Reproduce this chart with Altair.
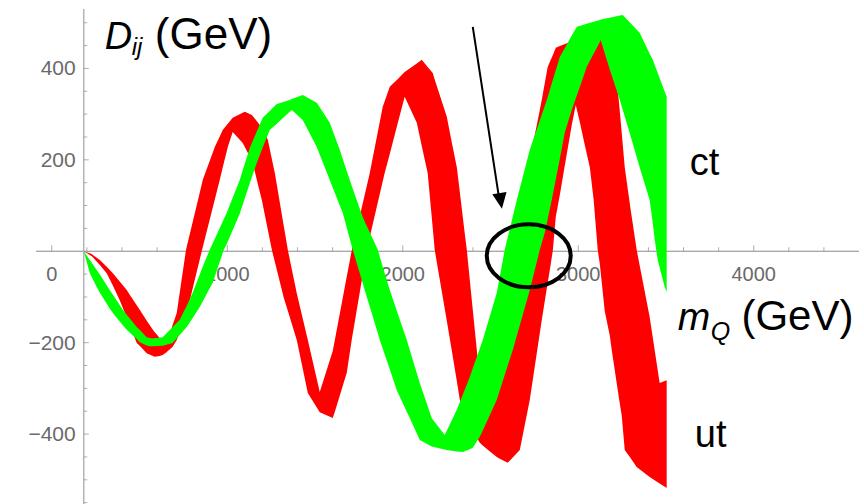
import altair as alt
import pandas as pd

# ---- red band (ut): m_Q (GeV), upper edge, lower edge (GeV) ----
ut_m = [182, 228, 234, 274, 313, 348, 387, 427, 444, 484, 501, 541, 576, 587, 615, 632, 650, 678, 689, 712,
        764, 769, 855, 860, 929, 957, 974, 1003, 1031, 1088, 1100, 1140, 1145, 1185, 1197, 1231, 1254, 1271,
        1322, 1345, 1396, 1402, 1459, 1527, 1601, 1613, 1681, 1709, 1795, 1812, 1886, 1897, 1926, 1972, 2011,
        2080, 2108, 2142, 2171, 2182, 2251, 2279, 2308, 2325, 2353, 2365, 2382, 2422, 2439, 2456, 2490, 2536,
        2553, 2598, 2627, 2667, 2707, 2724, 2781, 2792, 2826, 2838, 2855, 2872, 2895, 2929, 2952, 2963, 2986,
        3009, 3037, 3066, 3088, 3111, 3123, 3151, 3180, 3191, 3208, 3231, 3248, 3265, 3299, 3333, 3407, 3464, 3504]
ut_hi = [0, -6, -8, -19, -34, -48, -66, -85, -95, -118, -128, -152, -172, -177, -190, -195, -201, -174, -161, -135,
         1, 10, 147, 156, 228, 251, 265, 279, 292, 303, 305, 298, 296, 276, 268, 244, 202, 171,
         55, 3, -92, -102, -194, -308, -218, -194, -55, 1, 143, 171, 316, 328, 360, 377, 392,
         411, 419, 403, 390, 376, 294, 239, 184, 130, 40, 3, -63, -216, -282, -347, -282, -186,
         -151, -56, 1, 85, 167, 200, 309, 331, 403, 414, 429, 445, 449, 454, 458, 459, 462,
         464, 467, 467, 468, 469, 469, 460, 451, 435, 408, 331, 258, 184, 90, 3, -144, -288, -282]
ut_lo = [0, -11, -13, -30, -48, -75, -107, -145, -161, -201, -207, -223, -229, -231, -229, -227, -222, -213, -209, -194,
         -141, -135, 1, 9, 113, 156, 183, 228, 261, 237, 228, 198, 193, 130, 112, 47, 3, -23,
         -102, -130, -194, -205, -310, -352, -365, -351, -266, -194, 1, 31, 153, 171, 213, 281, 338,
         281, 231, 171, 51, 3, -152, -216, -284, -325, -353, -364, -380, -408, -419, -425, -436, -450,
         -454, -463, -451, -435, -358, -325, -179, -151, -69, -41, 1, 75, 123, 200, 251, 276, 320,
         283, 233, 184, 112, 3, -28, -131, -185, -216, -260, -319, -360, -435, -453, -472, -494, -508, -518]

# ---- green band (ct) ----
ct_m = [182, 217, 256, 274, 330, 348, 405, 427, 484, 501, 541, 558, 570, 632, 689, 729, 769, 803, 843, 860,
        900, 917, 980, 997, 1071, 1128, 1168, 1202, 1242, 1282, 1356, 1368, 1430, 1510, 1584, 1641, 1658, 1698,
        1715, 1772, 1783, 1858, 1869, 1926, 1966, 2023, 2040, 2097, 2165, 2171, 2239, 2251, 2308, 2342, 2382,
        2399, 2439, 2456, 2536, 2581, 2627, 2650, 2724, 2781, 2809, 2821, 2849, 2895, 2923, 2963, 2992, 3026,
        3048, 3123, 3128, 3180, 3237, 3254, 3293, 3350, 3407, 3425, 3436, 3453, 3493, 3504]
ct_hi = [0, -19, -41, -51, -85, -95, -128, -139, -166, -172, -188, -190, -191, -188, -166, -150, -119, -91, -51, -34,
         3, 17, 70, 84, 156, 226, 262, 292, 307, 322, 331, 333, 342, 325, 281, 222, 202, 156,
         137, 75, 65, 3, -12, -85, -130, -194, -216, -288, -365, -368, -402, -393, -347, -314, -275,
         -256, -213, -194, -91, 3, 76, 112, 222, 286, 318, 331, 367, 425, 444, 472, 491, 495,
         498, 506, 507, 511, 516, 517, 501, 478, 432, 419, 407, 390, 349, 338]
ct_lo = [0, -48, -78, -91, -125, -135, -162, -172, -192, -199, -206, -208, -208, -207, -201, -183, -166, -146, -122, -110,
         -81, -69, 3, 16, 82, 149, 193, 227, 265, 279, 305, 309, 287, 228, 156, 100, 84, 27,
         3, -70, -85, -179, -194, -258, -304, -351, -365, -413, -427, -428, -434, -435, -438, -439, -433,
         -430, -406, -392, -325, -271, -216, -185, -85, 3, 40, 61, 112, 202, 259, 309, 341, 378,
         403, 458, 462, 397, 331, 309, 259, 184, 112, 60, 25, -19, -78, -89]

# ---- axes ----
x_range = [-90, 4600]
y_range = [-553, 530]
x_labels = [0, 1000, 2000, 3000, 4000]
x_minor = [200, 400, 600, 800, 1200, 1400, 1600, 1800, 2200, 2400, 2600, 2800,
           3200, 3400, 3600, 3800, 4200, 4400]
y_labels = [-400, -200, 200, 400]
y_minor = [-550, -500, -450, -350, -300, -250, -150, -100, -50, 50, 100, 150,
           250, 300, 350, 450, 500]
y_axis_at = 182  # m_Q where the vertical axis crosses

red_df = pd.DataFrame({"m": ut_m, "hi": ut_hi, "lo": ut_lo})
green_df = pd.DataFrame({"m": ct_m, "hi": ct_hi, "lo": ct_lo})
one_row = pd.DataFrame({"k": [0]})

xs = alt.Scale(domain=x_range, nice=False, zero=False)
ys = alt.Scale(domain=y_range, nice=False, zero=False)

GRAY = "#6a6a6a"
TICK = "#8a8a8a"
FONT = "Liberation Sans"


def X(field=None, datum=None):
    if datum is not None:
        return alt.X(datum=datum, scale=xs, axis=None)
    return alt.X(field, type="quantitative", scale=xs, axis=None)


def Y(field=None, datum=None):
    if datum is not None:
        return alt.Y(datum=datum, scale=ys, axis=None)
    return alt.Y(field, type="quantitative", scale=ys, axis=None)


# axis lines
x_line = alt.Chart(one_row).mark_rule(color=TICK, strokeWidth=1).encode(
    x=X(datum=x_range[0]), x2=alt.X2(datum=x_range[1]), y=Y(datum=0))
y_line = alt.Chart(one_row).mark_rule(color="#b4b4b4", strokeWidth=1.5).encode(
    x=X(datum=y_axis_at), y=Y(datum=y_range[0]), y2=alt.Y2(datum=y_range[1]))

# ticks
xmaj_t = alt.Chart(pd.DataFrame({"v": x_labels})).mark_tick(
    orient="vertical", size=6, thickness=1, color=TICK, yOffset=-3
).encode(x=X("v"), y=Y(datum=0))
xmin_t = alt.Chart(pd.DataFrame({"v": x_minor})).mark_tick(
    orient="vertical", size=4, thickness=1, color=TICK, yOffset=-2
).encode(x=X("v"), y=Y(datum=0))
ymaj_t = alt.Chart(pd.DataFrame({"v": y_labels})).mark_tick(
    orient="horizontal", size=5, thickness=1, color=TICK, xOffset=2.5
).encode(y=Y("v"), x=X(datum=y_axis_at))
ymin_t = alt.Chart(pd.DataFrame({"v": y_minor})).mark_tick(
    orient="horizontal", size=3.5, thickness=1, color=TICK, xOffset=1.75
).encode(y=Y("v"), x=X(datum=y_axis_at))

# tick labels
x_lab = alt.Chart(pd.DataFrame({"v": x_labels})).mark_text(
    font=FONT, fontSize=20, color=GRAY, align="center", baseline="top", dy=14
).encode(x=X("v"), y=Y(datum=0), text=alt.Text("v:Q", format="d"))
y_lab = alt.Chart(pd.DataFrame({"v": y_labels})).mark_text(
    font=FONT, fontSize=21, color=GRAY, align="right", baseline="middle", dx=-8, dy=1
).encode(y=Y("v"), x=X(datum=y_axis_at), text=alt.Text("v:Q", format="d"))

red = alt.Chart(red_df).mark_area(color="#ff0000", interpolate="linear").encode(
    x=X("m"), y=Y("hi"), y2="lo:Q")
green = alt.Chart(green_df).mark_area(color="#00ff00", interpolate="linear").encode(
    x=X("m"), y=Y("hi"), y2="lo:Q")


def label(txt, xm, yd, size, italic=False):
    kw = dict(text=txt, font=FONT, fontSize=size, align="left", baseline="alphabetic", color="black")
    if italic:
        kw["fontStyle"] = "italic"
    return alt.Chart(one_row).mark_text(**kw).encode(x=X(datum=xm), y=Y(datum=yd))


texts = [
    label("D", 302, 443, 38, True),
    label("ij", 455, 429, 24, True),
    label("(GeV)", 587, 443, 44),
    label("m", 3567, -172, 39, True),
    label("Q", 3755, -194, 25, True),
    label("(GeV)", 3930, -172, 42),
    label("ct", 3635, 167, 38),
    label("ut", 3664, -428, 38),
]

ellipse_path = ("M 1 0 C 1 0.4142 0.5523 0.75 0 0.75 C -0.5523 0.75 -1 0.4142 -1 0 "
                "C -1 -0.4142 -0.5523 -0.75 0 -0.75 C 0.5523 -0.75 1 -0.4142 1 0 Z")
ellipse = alt.Chart(one_row).mark_point(shape=ellipse_path, size=7056, filled=False, strokeWidth=4,
                                        color="black", opacity=1).encode(
    x=X(datum=2718), y=Y(datum=-10))

arrow_line = alt.Chart(one_row).mark_rule(color="black", strokeWidth=2).encode(
    x=X(datum=2399), y=Y(datum=491), x2=alt.X2(datum=2547), y2=alt.Y2(datum=121))
arrow_head = alt.Chart(one_row).mark_point(shape="M 0 1 L -0.9 -1 L 0.9 -1 Z", size=256, filled=True,
                                           color="black", opacity=1, angle=351).encode(
    x=X(datum=2558), y=Y(datum=110))

chart = alt.layer(
    x_line, y_line, xmaj_t, xmin_t, ymaj_t, ymin_t, x_lab, y_lab,
    red, green, ellipse, arrow_line, arrow_head, *texts
).properties(
    width=823, height=495,
    padding={"left": 36, "top": 9, "right": 5, "bottom": 0},
    autosize=alt.AutoSizeParams(type="none"),
    background="white",
).configure_view(stroke=None)

chart.save("out.html", embed_options={"renderer": "svg", "actions": False})
